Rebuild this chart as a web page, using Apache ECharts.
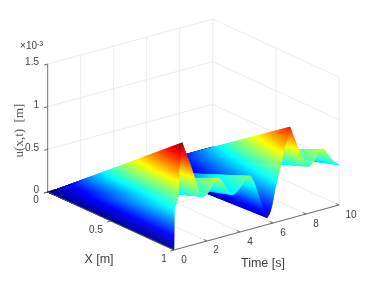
<!DOCTYPE html>
<html><head><meta charset="utf-8">
<style>html,body{margin:0;padding:0;background:#fff}#c{width:368px;height:283px;filter:blur(0.35px)}</style>
<script src="https://cdn.jsdelivr.net/npm/echarts@6/dist/echarts.min.js"></script>
</head><body><div id="c"></div>
<script>
// Values
var timeSamples = [0,0.02,0.27,0.29,0.4,0.5,0.75,1.0,1.3,1.58,1.8,2.05,2.3,2.5,2.7,2.9,3.1,3.35,3.57,3.8,4.05,4.3,4.5,4.65,4.85,5.0,5.3,5.5,5.65,5.8,5.94,6.18,6.48,6.67,7.03,7.21,7.64,8.12,8.3,8.5,8.7,8.9,9.1,9.3,9.6,10];
var tipDisp     = [0,0.47,0.61,0.92,1.10,1.23,1.08,0.94,0.75,0.56,0.53,0.56,0.62,0.68,0.70,0.66,0.59,0.50,0.46,0.48,0.53,0.59,0.62,0.62,0.54,0.45,0.26,0.13,0.08,0.12,0.21,0.44,0.65,0.83,1.07,0.97,0.73,0.55,0.56,0.60,0.66,0.70,0.70,0.64,0.54,0.47];
var xTicks = [0,0.5,1];
var tTicks = [0,2,4,6,8,10];
var zTicks = [0,0.5,1,1.5];
var xTickLabels = ['0','0.5','1'];
var tTickLabels = ['0','2','4','6','8','10'];
var zTickLabels = ['0','0.5','1','1.5'];
var zExponent = '\u00d710';
var xTitle = 'X [m]', tTitle = 'Time [s]', zTitle = 'u(x,t)  [m]';

// 3-D view: oblique projection onto the page plane
var O = [47.7,192], EX = [126.3,58], ET = [16.5,-4.5], EZ = -85.3;
function P(x,t,z){ return [O[0]+EX[0]*x+ET[0]*t, O[1]+EX[1]*x+ET[1]*t+EZ*z]; }

var jetStops = [[0,[0,0,143]],[0.125,[0,0,255]],[0.375,[0,255,255]],[0.625,[255,255,0]],[0.875,[255,0,0]],[1,[128,0,0]]];
var zMaxColor = 1.25;
function rgb(c){ return 'rgb('+c.map(Math.round).join(',')+')'; }
function jetAt(v){
  v=Math.max(0,Math.min(1,v));
  for(var i=1;i<jetStops.length;i++){ if(v<=jetStops[i][0]){
    var a=jetStops[i-1],b=jetStops[i],k=(v-a[0])/(b[0]-a[0]);
    return [0,1,2].map(function(c){return a[1][c]+(b[1][c]-a[1][c])*k;});
  }}
  return jetStops[5][1];
}
// gradient stops along one constant-time line, from x=0 (z=0) to x=1 (z=f)
function lineStops(f){
  var vEnd=Math.max(f/zMaxColor,1e-4), out=[{offset:0,color:rgb(jetAt(0))}];
  jetStops.forEach(function(s){ if(s[0]>0&&s[0]<vEnd) out.push({offset:s[0]/vEnd,color:rgb(s[1])}); });
  out.push({offset:1,color:rgb(jetAt(vEnd))});
  return out;
}

// Segments in 3-D
var gridSegs=[], axisSegs=[];
function seg(list,a,b){ list.push([P.apply(null,a),P.apply(null,b)]); }
tTicks.forEach(function(t){
  seg(gridSegs,[0,t,0],[1,t,0]);
  if(t>0) seg(gridSegs,[0,t,0],[0,t,1.5]);
});
xTicks.forEach(function(x){
  if(x>0) seg(gridSegs,[x,0,0],[x,10,0]);
  if(x>0) seg(gridSegs,[x,10,0],[x,10,1.5]);
});
zTicks.forEach(function(z){
  if(z>0){ seg(gridSegs,[0,0,z],[0,10,z]); seg(gridSegs,[0,10,z],[1,10,z]); }
});
seg(axisSegs,[0,0,0],[0,0,1.5]);
seg(axisSegs,[0,0,0],[1,0,0]);
seg(axisSegs,[1,0,0],[1,10,0]);
zTicks.forEach(function(z){ seg(axisSegs,[0,0,z],[0,-0.22,z]); });
xTicks.forEach(function(x){ seg(axisSegs,[x,0,0],[x,-0.22,0]); });
tTicks.forEach(function(t){ seg(axisSegs,[1,t,0],[0.975,t,0]); });

function lineSeries(list,color,width,z){
  return {type:'custom',coordinateSystem:'cartesian2d',silent:true,clip:false,z:z,
    data:list.map(function(s,i){return [i];}),encode:{x:0,y:0},
    renderItem:function(p,api){
      var s=list[api.value(0)],a=api.coord(s[0]),b=api.coord(s[1]);
      return {type:'line',shape:{x1:a[0],y1:a[1],x2:b[0],y2:b[1]},style:{stroke:color,lineWidth:width}};
    }};
}

// Surface: drawn far to near (t descending); each time interval is shaded in thin gradient strips
var order=timeSamples.slice(1).map(function(_,i){return timeSamples.length-2-i;});
var surface={type:'custom',coordinateSystem:'cartesian2d',silent:true,clip:false,z:3,
  data:order.map(function(i){return [i];}),encode:{x:0,y:0},
  renderItem:function(p,api){
    var i=api.value(0),kids=[],t0=timeSamples[i],t1=timeSamples[i+1],f0=tipDisp[i],f1=tipDisp[i+1];
    var n=Math.max(1,Math.ceil(Math.abs(f1-f0)/0.008),Math.ceil((t1-t0)/0.04));
    for(var s=n-1;s>=0;s--){
      var a=s/n,b=(s+1)/n;
      var ta=t0+(t1-t0)*a,tb=t0+(t1-t0)*b,fa=f0+(f1-f0)*a,fb=f0+(f1-f0)*b,fm=(fa+fb)/2,tm=(ta+tb)/2;
      var g0=api.coord(P(0,tm,0)),g1=api.coord(P(1,tm,fm));
      var fill={type:'linear',global:true,x:g0[0],y:g0[1],x2:g1[0],y2:g1[1],colorStops:lineStops(fm)};
      var pts=[P(0,ta,0),P(1,ta,fa),P(1,tb,fb),P(0,tb,0)].map(function(q){return api.coord(q);});
      kids.push({type:'polygon',shape:{points:pts},style:{fill:fill,stroke:fill,lineWidth:0.5}});
    }
    return {type:'group',children:kids};
  }};

// Text
var texts=[];
function T(str,px,py,size,opt){ texts.push(Object.assign({str:str,pos:[px,py],size:size,family:'Liberation Sans',align:'center',rot:0,color:'#404040'},opt||{})); }
var zLabPos=[[39,190],[39,148],[39,105],[39,62]];
zTickLabels.forEach(function(s,i){T(s,zLabPos[i][0],zLabPos[i][1],10,{align:'right'});});
var xLabPos=[[36,200],[96,230],[164,259]];
xTickLabels.forEach(function(s,i){T(s,xLabPos[i][0],xLabPos[i][1],10);});
var tLabPos=[[184,260],[216,250],[250,242],[283,233],[316,224],[351,215]];
tTickLabels.forEach(function(s,i){T(s,tLabPos[i][0],tLabPos[i][1],10);});
T(zExponent,37,46,10,{align:'right'});
T('-3',37,44,7,{align:'left'});
T(xTitle,99,260,12.5);
T(tTitle,263,264,12.5);
T(zTitle,19.5,130.5,13,{family:'Liberation Serif',rot:Math.PI/2,color:'#555'});

var textSeries={type:'custom',coordinateSystem:'cartesian2d',silent:true,clip:false,z:5,
  data:texts.map(function(s,i){return [i];}),encode:{x:0,y:0},
  renderItem:function(p,api){
    var d=texts[api.value(0)],c=api.coord(d.pos);
    return {type:'text',x:c[0],y:c[1],rotation:d.rot,
      style:{text:d.str,fill:d.color,font:d.size+'px "'+d.family+'"',textAlign:d.align,textVerticalAlign:'middle'}};
  }};

var chart=echarts.init(document.getElementById('c'),null,{width:368,height:283});
chart.setOption({
  animation:false,backgroundColor:'#fff',
  grid:{left:0,right:0,top:0,bottom:0},
  xAxis:{type:'value',min:0,max:368,show:false},
  yAxis:{type:'value',min:0,max:283,inverse:true,show:false},
  series:[lineSeries(gridSegs,'#e6e6e6',0.8,1),surface,lineSeries(axisSegs,'#5f5f5f',0.9,4),textSeries]
});
</script></body></html>
